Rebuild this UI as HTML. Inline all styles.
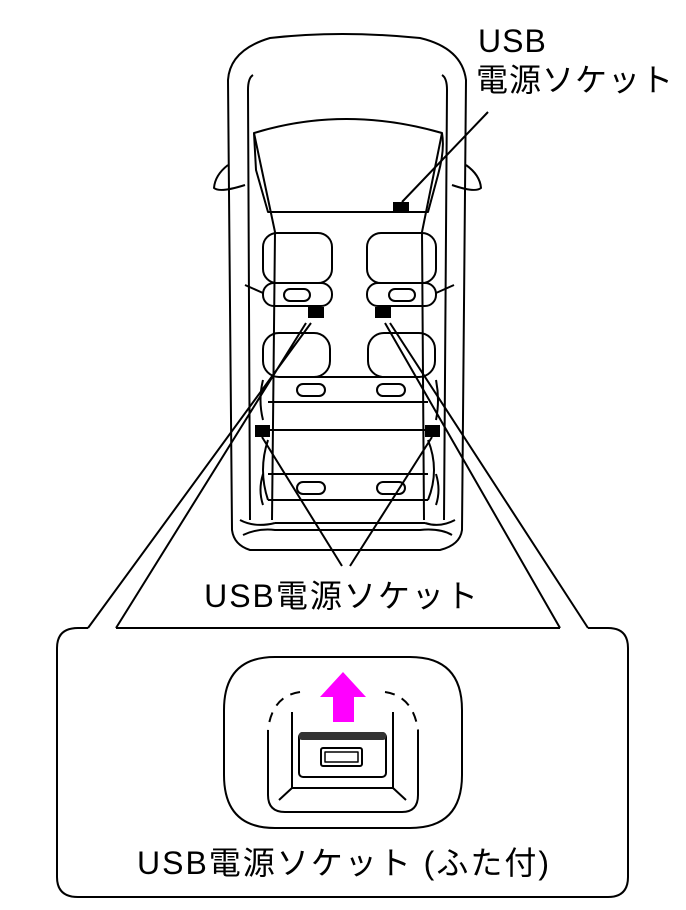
<!DOCTYPE html>
<html><head><meta charset="utf-8"><style>
html,body{margin:0;padding:0;background:#fff;}
svg{display:block}
text{font-family:"Liberation Sans","Noto Sans CJK JP",sans-serif;fill:#000}
</style></head><body>
<svg width="686" height="910" viewBox="0 0 686 910" xmlns="http://www.w3.org/2000/svg">
<g fill="none" stroke="#000" stroke-width="2" stroke-linejoin="round">
<path d="M232,530 L228,80 Q230,50 270,38 Q340,30 420,38 Q462,48 466,80 L462,530 Q460,545 440,550 L250,550 Q234,545 232,530 Z"/>
<path d="M253,75 Q248,78 248,90 L250,520 M442,75 Q447,78 447,90 L444,520"/>
<path d="M254,133 Q345,105 442,133 Q445,150 438,175 L428,212 L268,212 L256,170 Z"/>
<path d="M254,133 L275,232 L272,520 M442,133 L422,232 L424,520"/>
<path d="M228,165 Q215,175 214,188 Q220,193 245,185"/>
<path d="M466,165 Q480,175 481,188 Q475,193 452,185"/>
<rect x="263" y="233" width="69" height="50" rx="14"/>
<rect x="263" y="283" width="69" height="23" rx="11"/>
<rect x="284" y="289" width="26" height="12" rx="6"/>
<rect x="367" y="233" width="69" height="50" rx="14"/>
<rect x="367" y="283" width="69" height="23" rx="11"/>
<rect x="389" y="289" width="26" height="12" rx="6"/>
<path d="M245,285 L263,293 M454,285 L436,293"/>
<rect x="263" y="333" width="67" height="44" rx="16"/>
<rect x="368" y="333" width="67" height="44" rx="16"/>
<path d="M283,377 L415,377 M268,402 L428,402 M268,430 L428,430"/>
<rect x="297" y="384" width="28" height="12" rx="6"/>
<rect x="377" y="384" width="28" height="12" rx="6"/>
<path d="M263,380 Q258,400 263,420 M436,380 Q440,400 436,420"/>
<path d="M268,474 L428,474 M268,500 L428,500 M275,523 L425,523"/>
<rect x="297" y="482" width="28" height="12" rx="6"/>
<rect x="377" y="482" width="28" height="12" rx="6"/>
<path d="M268,440 Q258,470 268,500 M428,440 Q440,470 428,500 M263,474 Q258,490 263,505 M436,474 Q441,490 436,505"/>
<path d="M240,520 Q255,528 275,523 M455,520 Q440,528 425,523"/>
<path d="M243,535 Q258,528 275,530 L420,530 Q440,528 452,535"/>
<path d="M402,202 L488,112"/>
<path d="M311,323 L88,628 M306,323 L116,628 M385,323 L560,628 M390,323 L588,628"/>
<path d="M262,437 L342,566 M432,437 L350,566"/>
<path d="M116,628 L560,628 M588,628 L608,628 Q628,628 628,648 L628,877 Q628,897 608,897 L78,897 Q57,897 57,877 L57,648 Q57,628 78,628 L88,628"/>
<path d="M275,657 L410,657 Q462,657 462,710 L462,775 Q462,828 410,828 L275,828 Q224,828 224,775 L224,710 Q224,657 275,657 Z"/>
<path d="M300,692 Q272,696 268,730" stroke-dasharray="10,8"/>
<path d="M385,692 Q413,696 418,730" stroke-dasharray="10,8"/>
<path d="M268,730 L268,795 Q268,812 285,812 L402,812 Q418,812 418,795 L418,730"/>
<path d="M292,712 L292,788 L393,788 L393,712 M292,788 L279,800 M393,788 L406,800"/>
<rect x="299" y="733" width="87" height="44" rx="4"/>
<rect x="321" y="748" width="41" height="18" rx="2"/>
<rect x="325" y="752" width="33" height="10" stroke-width="1.5"/>
</g>
<rect x="299" y="732" width="87" height="8" rx="3" fill="#333"/>
<rect x="393" y="202" width="16" height="10" fill="#000"/>
<rect x="308" y="307" width="16" height="11" fill="#000"/>
<rect x="375" y="307" width="16" height="11" fill="#000"/>
<rect x="255" y="425" width="15" height="12" fill="#000"/>
<rect x="425" y="425" width="15" height="12" fill="#000"/>
<polygon points="333,722 354,722 354,697 366,697 343,672 320,697 333,697" fill="#ff00ff"/>
<text x="478" y="52" font-size="32" letter-spacing="1">USB</text>
<text x="476" y="91" font-size="32" letter-spacing="1">電源ソケット</text>
<text x="342" y="607" font-size="32" letter-spacing="2" text-anchor="middle">USB電源ソケット</text>
<text x="344" y="874" font-size="32" letter-spacing="2" text-anchor="middle">USB電源ソケット (ふた付)</text>
</svg>
</body></html>
